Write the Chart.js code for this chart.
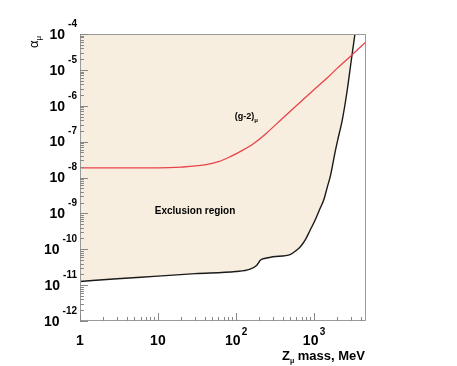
<!DOCTYPE html>
<html>
<head>
<meta charset="utf-8">
<script src="https://cdn.jsdelivr.net/npm/chart.js@4"></script>
<style>
  html, body { margin: 0; padding: 0; background: #fff; }
  canvas { display: block; }
</style>
</head>
<body>
<canvas id="chart" width="457" height="366"></canvas>
<script>
// exclusion limit (black curve), Z_mu mass in MeV vs alpha_mu
const limitMass = [1, 3, 10, 30, 100, 150, 185, 208, 240, 300, 505, 600, 675, 780, 900, 1050, 1200, 1350, 1500, 1650,
  1910, 2100, 2330, 2700, 3000, 3390];
const limitAlpha = [1.26e-11, 1.51e-11, 1.78e-11, 2.09e-11, 2.40e-11, 2.75e-11, 3.55e-11, 5.01e-11, 5.62e-11, 6.17e-11,
  7.24e-11, 9.33e-11, 1.17e-10, 1.82e-10, 3.39e-10, 6.61e-10, 1.32e-9, 2.40e-9, 5.50e-9, 1.17e-8,
  5.89e-8, 1.48e-7, 3.98e-7, 2.75e-6, 1.48e-5, 1e-4];

// (g-2)_mu line (red)
const g2Mass = [1, 10, 20, 40, 60, 85, 120, 170, 250, 400, 700, 1000, 1500, 2000, 3000, 4700];
const g2Alpha = [1.86e-8, 1.86e-8, 1.95e-8, 2.24e-8, 2.75e-8, 3.80e-8, 5.62e-8, 8.91e-8, 1.75e-7, 4.5e-7,
  1.35e-6, 2.75e-6, 6.03e-6, 1.10e-5, 2.45e-5, 6.03e-5];

const xDecades = [0, 1, 2, 3];
const yDecades = [-12, -11, -10, -9, -8, -7, -6, -5, -4];

const FONT = '"Liberation Sans", Arial, sans-serif';

function toPoints(xs, ys) {
  return xs.map((x, i) => ({ x: x, y: ys[i] }));
}

const axisDecor = {
  id: 'axisDecor',
  afterDraw(chart) {
    const ctx = chart.ctx;
    const a = chart.chartArea;
    const xs = chart.scales.x;
    const ys = chart.scales.y;
    ctx.save();

    // frame
    ctx.strokeStyle = '#9a9a9a';
    ctx.lineWidth = 1;
    ctx.strokeRect(a.left + 0.5, a.top + 0.5, a.right - a.left - 1, a.bottom - a.top - 1);

    // y ticks (inside, on left edge)
    ctx.strokeStyle = '#888';
    ctx.beginPath();
    yDecades.forEach(e => {
      const py = Math.round(ys.getPixelForValue(Math.pow(10, e))) + 0.5;
      ctx.moveTo(a.left, py); ctx.lineTo(a.left + 8, py);
      if (e < -4) {
        for (let k = 2; k <= 9; k++) {
          const p = Math.round(ys.getPixelForValue(k * Math.pow(10, e))) + 0.5;
          ctx.moveTo(a.left, p); ctx.lineTo(a.left + 4, p);
        }
      }
    });
    // x ticks (inside, on bottom edge)
    xDecades.forEach(e => {
      const px = Math.round(xs.getPixelForValue(Math.pow(10, e))) + 0.5;
      ctx.moveTo(px, a.bottom); ctx.lineTo(px, a.bottom - 8);
      for (let k = 2; k <= 9; k++) {
        const v = k * Math.pow(10, e);
        if (v > xs.max) break;
        const p = Math.round(xs.getPixelForValue(v)) + 0.5;
        ctx.moveTo(p, a.bottom); ctx.lineTo(p, a.bottom - 4);
      }
    });
    ctx.stroke();

    // y tick labels: 10 with superscript exponent
    ctx.fillStyle = '#000';
    ctx.textBaseline = 'middle';
    yDecades.forEach(e => {
      const py = ys.getPixelForValue(Math.pow(10, e));
      ctx.font = 'bold 10px ' + FONT;
      ctx.textAlign = 'right';
      const exp = String(e);
      const ew = ctx.measureText(exp).width;
      ctx.fillText(exp, 77, py - 10);
      ctx.font = 'bold 14px ' + FONT;
      ctx.fillText('10', 77 - ew - 3, py + 1);
    });

    // x tick labels
    xDecades.forEach(e => {
      const px = xs.getPixelForValue(Math.pow(10, e));
      ctx.font = 'bold 14px ' + FONT;
      ctx.textAlign = 'center';
      if (e === 0) ctx.fillText('1', px, 341);
      else if (e === 1) ctx.fillText('10', px, 341);
      else {
        ctx.fillText('10', px - 3, 341);
        ctx.font = 'bold 10px ' + FONT;
        ctx.textAlign = 'left';
        ctx.fillText(String(e), px + 6, 332);
      }
    });

    // x title
    ctx.textBaseline = 'alphabetic';
    ctx.textAlign = 'left';
    const rest = ' mass, MeV';
    ctx.font = 'bold 13px ' + FONT;
    const wZ = ctx.measureText('Z').width;
    const wRest = ctx.measureText(rest).width;
    ctx.font = 'bold 7px ' + FONT;
    const wMu = ctx.measureText('\u03bc').width;
    const x0 = 365 - wZ - wMu - wRest;
    ctx.font = 'bold 13px ' + FONT;
    ctx.fillText('Z', x0, 360);
    ctx.font = 'bold 7px ' + FONT;
    ctx.fillText('\u03bc', x0 + wZ, 363);
    ctx.font = 'bold 13px ' + FONT;
    ctx.fillText(rest, x0 + wZ + wMu, 360);

    // y title, rotated
    ctx.save();
    ctx.translate(38, 48);
    ctx.rotate(-Math.PI / 2);
    ctx.font = '13px ' + FONT;
    ctx.textAlign = 'left';
    ctx.fillText('\u03b1', 0, 0);
    const wa = ctx.measureText('\u03b1').width;
    ctx.font = '8px ' + FONT;
    ctx.fillText('\u03bc', wa, 3);
    ctx.restore();

    // annotations
    ctx.font = 'bold 9px ' + FONT;
    ctx.textBaseline = 'middle';
    ctx.textAlign = 'left';
    const gx = xs.getPixelForValue(97);
    const gy = ys.getPixelForValue(4.9e-7);
    ctx.fillText('(g-2)', gx, gy);
    const wg = ctx.measureText('(g-2)').width;
    ctx.font = 'bold 6px ' + FONT;
    ctx.fillText('\u03bc', gx + wg, gy + 3);

    ctx.font = 'bold 10px ' + FONT;
    ctx.textAlign = 'center';
    ctx.fillText('Exclusion region', xs.getPixelForValue(30), ys.getPixelForValue(1.15e-9));

    ctx.restore();
  }
};

new Chart(document.getElementById('chart'), {
  type: 'scatter',
  data: {
    datasets: [
      {
        label: 'Exclusion region',
        data: toPoints(limitMass, limitAlpha),
        showLine: true,
        borderColor: '#1a1a1a',
        borderWidth: 1.4,
        backgroundColor: '#f7eedf',
        fill: 'end',
        pointRadius: 0,
        cubicInterpolationMode: 'monotone',
        order: 2
      },
      {
        label: '(g-2)',
        data: toPoints(g2Mass, g2Alpha),
        showLine: true,
        borderColor: '#e8434a',
        borderWidth: 1.3,
        fill: false,
        pointRadius: 0,
        cubicInterpolationMode: 'monotone',
        order: 1
      }
    ]
  },
  options: {
    responsive: false,
    animation: false,
    devicePixelRatio: 1,
    layout: { padding: { left: 80, right: 91, top: 34, bottom: 45 } },
    plugins: { legend: { display: false }, tooltip: { enabled: false } },
    scales: {
      x: { type: 'logarithmic', min: 1, max: 4700, display: false },
      y: { type: 'logarithmic', min: 1e-12, max: 1e-4, display: false }
    }
  },
  plugins: [axisDecor]
});
</script>
</body>
</html>
